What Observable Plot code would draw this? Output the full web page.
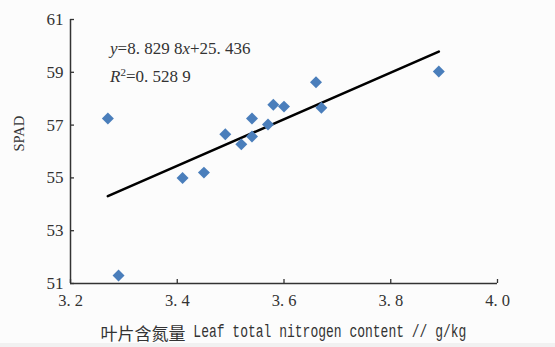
<!DOCTYPE html>
<html>
<head>
<meta charset="utf-8">
<script src="https://cdn.jsdelivr.net/npm/d3@7"></script>
<script src="https://cdn.jsdelivr.net/npm/@observablehq/plot@0.6"></script>
<style>
  html, body { margin: 0; padding: 0; background: #fcfcfc; }
  #wrap { position: relative; width: 555px; height: 347px; background: #fcfcfc; overflow: hidden; }
  #strip { position: absolute; left: 0; top: 343px; width: 555px; height: 4px; background: #f1f1f1; }
  #xlabel { position: absolute; left: 0; top: 320px; width: 567px; text-align: center; color: #333; white-space: nowrap; line-height: 24px; }
  #xlabel .cjk { font-family: "Noto Sans CJK SC"; font-size: 17px; vertical-align: middle; }
  #xlabel .lat { display: inline-block; font-family: "Liberation Mono", "DejaVu Sans Mono", monospace; font-size: 13px; transform: scale(1, 1.35); vertical-align: middle; white-space: pre; }
</style>
</head>
<body>
<div id="wrap">
  <div id="chart"></div>
  <div id="xlabel"><span class="cjk">叶片含氮量</span><span class="lat"> Leaf total nitrogen content // g/kg</span></div>
  <div id="strip"></div>
</div>
<script>
// Leaf total nitrogen content (g/kg)
const nitrogen = [3.27, 3.29, 3.41, 3.45, 3.49, 3.52, 3.54, 3.54, 3.57, 3.58, 3.60, 3.66, 3.67, 3.89];
// SPAD readings
const spad = [57.25, 51.3, 55.0, 55.2, 56.65, 56.27, 57.25, 56.57, 57.02, 57.77, 57.7, 58.62, 57.66, 59.03];
// Regression: y = 8.8298x + 25.436, drawn over the observed range
const slope = 8.8298;
const intercept = 25.436;
const fitX = [3.27, 3.89];
const xTicks = [3.2, 3.4, 3.6, 3.8, 4.0];
const yTicks = [51, 53, 55, 57, 59, 61];
const equationLine = "=8. 829 8";
const r2Text = "=0. 528 9";

const points = nitrogen.map((x, i) => ({x, y: spad[i]}));
const fit = fitX.map(x => ({x, y: slope * x + intercept}));
const fmt = d => d.toFixed(1).replace(".", ". ");

const serif = "'Liberation Serif', 'DejaVu Serif', serif";

const chart = Plot.plot({
  width: 555,
  height: 347,
  marginLeft: 70,
  marginRight: 58,
  marginTop: 19,
  marginBottom: 64,
  style: {background: "transparent", fontFamily: serif, color: "#333"},
  x: {domain: [3.2, 4.0]},
  y: {domain: [51, 61]},
  marks: [
    Plot.axisX({ticks: xTicks, tickFormat: fmt, tickSize: -4, tickPadding: 15, fontSize: 16.5, label: null, stroke: "#333", strokeWidth: 1.3}),
    Plot.axisY({ticks: yTicks, tickSize: -4, tickPadding: 11, fontSize: 17, label: null, stroke: "#333", strokeWidth: 1.3}),
    Plot.text(["SPAD"], {frameAnchor: "left", dx: -51, rotate: -90, fontSize: 14.5, fill: "#333", fontFamily: serif}),
    Plot.ruleY([yTicks[0]], {stroke: "#333", strokeWidth: 1.5}),
    Plot.ruleX([xTicks[0]], {stroke: "#333", strokeWidth: 1.5}),
    Plot.line(fit, {x: "x", y: "y", stroke: "#000", strokeWidth: 2.6}),
    Plot.dot(points, {x: "x", y: "y", symbol: "diamond2", r: 5.4, fill: "#4a7ebb", stroke: "none"})
  ]
});
document.getElementById("chart").appendChild(chart);

const svg = d3.select(chart);

// equation annotation
const eq = svg.append("g").attr("font-family", serif).attr("font-size", 17).attr("fill", "#333").attr("text-anchor", "start");
const t1 = eq.append("text").attr("x", 110).attr("y", 54);
t1.append("tspan").attr("font-style", "italic").text("y");
t1.append("tspan").text(equationLine);
t1.append("tspan").attr("font-style", "italic").text("x");
t1.append("tspan").text("+25. 436");
const t2 = eq.append("text").attr("x", 110).attr("y", 82);
t2.append("tspan").attr("font-style", "italic").text("R");
t2.append("tspan").attr("font-size", 11).attr("dy", -6).text("2");
t2.append("tspan").attr("dy", 6).text(r2Text);
</script>
</body>
</html>
